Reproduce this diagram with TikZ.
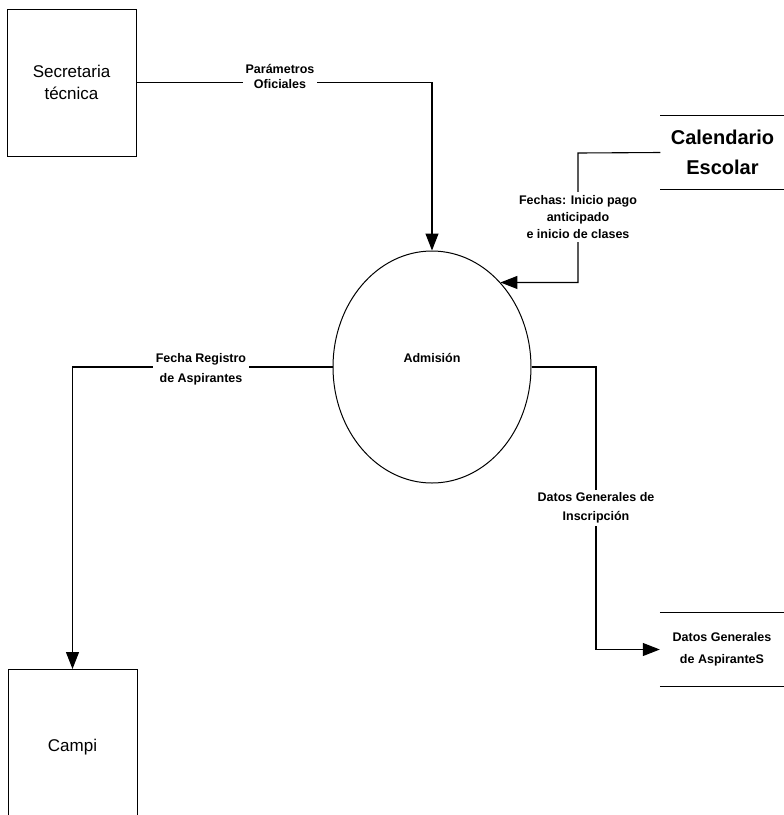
\documentclass[tikz,border=0pt]{standalone}
\usepackage{fontspec}
\setmainfont{Liberation Sans}
\usetikzlibrary{arrows.meta,shapes.geometric}
\begin{document}
\begin{tikzpicture}[x=1pt,y=-1pt,
  entity/.style={draw,line width=0.8pt,rectangle,inner sep=0pt,align=center,
    font=\fontsize{17}{22}\selectfont},
  process/.style={draw,line width=1pt,ellipse,inner sep=0pt,
    minimum width=198pt,minimum height=232pt,
    font=\bfseries\fontsize{12.5}{15}\selectfont},
  store/.style={inner sep=0pt,minimum width=124pt,minimum height=73pt,align=center},
  storeline/.style={line width=0.8pt},
  flow/.style={line width=1.1pt,-{Triangle[length=17pt,width=13pt]}},
  flowlabel/.style={fill=white,inner sep=3pt,align=center,
    font=\bfseries\fontsize{12.5}{17}\selectfont},
]
\useasboundingbox (0,0) rectangle (784,815);

% external entities
\node[entity,minimum width=129pt,minimum height=147pt] (sec) at (71.5,82.5) {Secretaria\\técnica};
\node[entity,anchor=north,minimum width=129pt,minimum height=165pt,
      text height=10pt,text depth=10pt] (campi) at (72.5,669) {Campi};

% process
\node[process,text height=9pt,text depth=18.4pt] (adm) at (432,367) {Admisión};

% data stores
\node[store,font=\bfseries\fontsize{20}{30}\selectfont] (cal) at (722.5,152.5) {Calendario\\Escolar};
\draw[storeline] (cal.north west) -- (cal.north east) (cal.south west) -- (cal.south east);

\node[store,font=\bfseries\fontsize{12.5}{22}\selectfont] (dga) at (722,649.5) {Datos Generales\\de AspiranteS};
\draw[storeline] (dga.north west) -- (dga.north east) (dga.south west) -- (dga.south east);

% data flows
\draw[flow] (sec.east) -| (adm.north);
\node[flowlabel,font=\bfseries\fontsize{12.5}{15}\selectfont] (lpar) at (280,76) {Parámetros\\Oficiales};

\coordinate (calbend) at (578,153);
\draw[flow] (cal.west) -- (calbend) |- (adm.51);
\node[flowlabel] (lcal) at (578,217) {Fechas: Inicio pago\\anticipado\\e inicio de clases};

\draw[flow] (adm.west) -| (campi.north);
\node[flowlabel,font=\bfseries\fontsize{12.5}{20}\selectfont] (lreg) at (201,369) {Fecha Registro\\de Aspirantes};

\coordinate (insbend) at (596,367);
\draw[flow] (adm.east) -- (insbend) |- (dga.west);
\node[flowlabel,font=\bfseries\fontsize{12.5}{19}\selectfont] (lins) at (596,508) {Datos Generales de\\Inscripción};
\end{tikzpicture}
\end{document}
